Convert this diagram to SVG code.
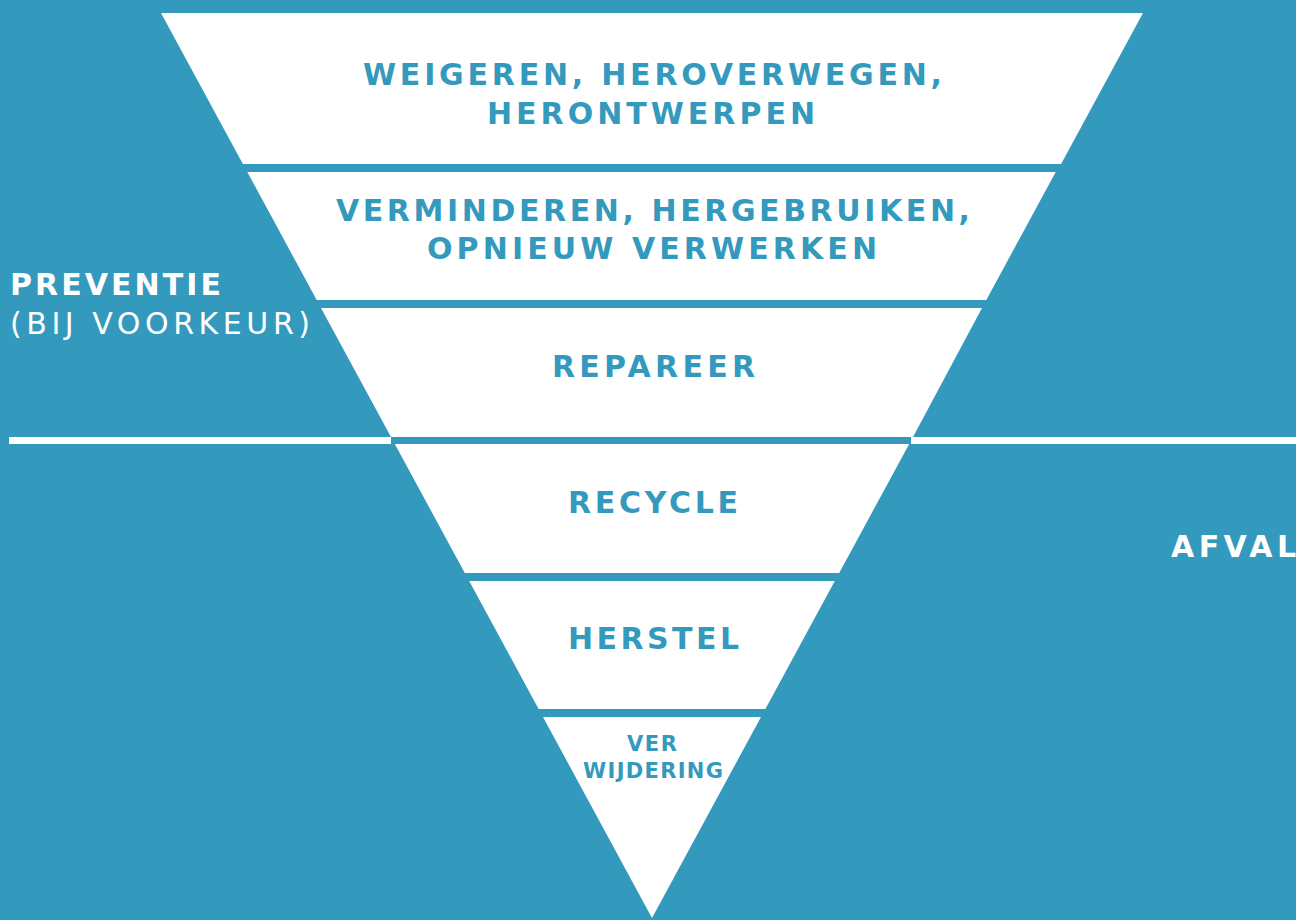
<svg xmlns="http://www.w3.org/2000/svg" width="1296" height="920" viewBox="0 0 1296 920">
  <style>
    .bg { fill: #3399bd; }
    .band { fill: #ffffff; }
    .divider { fill: #ffffff; }
    .lbl { font-family: "DejaVu Sans", "Liberation Sans", sans-serif; font-weight: bold; font-size: 30px; fill: #3399bd; }
    .small { font-family: "DejaVu Sans", "Liberation Sans", sans-serif; font-weight: bold; font-size: 21px; fill: #3399bd; }
    .side { font-family: "DejaVu Sans", "Liberation Sans", sans-serif; font-size: 30px; fill: #ffffff; }
    .side.b { font-weight: bold; }
  </style>

  <!-- background -->
  <rect class="bg" x="0" y="0" width="1296" height="920"/>

  <!-- separation line between prevention and waste -->
  <g id="divider">
    <rect class="divider" x="9" y="437" width="382" height="7"/>
    <rect class="divider" x="911" y="437" width="385" height="7"/>
  </g>

  <!-- inverted pyramid levels -->
  <g id="level-1">
    <polygon class="band" points="161,13 1143,13 1061.1,164 242.9,164"/>
    <text class="lbl" x="363" y="85" textLength="579" lengthAdjust="spacing">WEIGEREN, HEROVERWEGEN,</text>
    <text class="lbl" x="487" y="124" textLength="328" lengthAdjust="spacing">HERONTWERPEN</text>
  </g>

  <g id="level-2">
    <polygon class="band" points="247.3,172 1055.7,172 986.3,300 316.7,300"/>
    <text class="lbl" x="336" y="221" textLength="634" lengthAdjust="spacing">VERMINDEREN, HERGEBRUIKEN,</text>
    <text class="lbl" x="427" y="259" textLength="450" lengthAdjust="spacing">OPNIEUW VERWERKEN</text>
  </g>

  <g id="level-3">
    <polygon class="band" points="321,308 982,308 913,437 391,437"/>
    <text class="lbl" x="552" y="377" textLength="203" lengthAdjust="spacing">REPAREER</text>
  </g>

  <g id="level-4">
    <polygon class="band" points="394.8,444 909.2,444 839.2,573 464.8,573"/>
    <text class="lbl" x="568" y="513" textLength="170" lengthAdjust="spacing">RECYCLE</text>
  </g>

  <g id="level-5">
    <polygon class="band" points="469.2,581 834.8,581 765.4,709 538.6,709"/>
    <text class="lbl" x="568" y="649" textLength="171" lengthAdjust="spacing">HERSTEL</text>
  </g>

  <g id="level-6">
    <polygon class="band" points="543,717 761,717 652,918"/>
    <text class="small" x="627" y="751" textLength="50" lengthAdjust="spacing">VER</text>
    <text class="small" x="583" y="778" textLength="140" lengthAdjust="spacing">WIJDERING</text>
  </g>

  <!-- side labels -->
  <g id="label-preventie">
    <text class="side b" x="10" y="295" textLength="211" lengthAdjust="spacing">PREVENTIE</text>
    <text class="side" x="10" y="334" textLength="300" lengthAdjust="spacing">(BIJ VOORKEUR)</text>
  </g>

  <g id="label-afval">
    <text class="side b" x="1171" y="557" textLength="125" lengthAdjust="spacing">AFVAL</text>
  </g>
</svg>
